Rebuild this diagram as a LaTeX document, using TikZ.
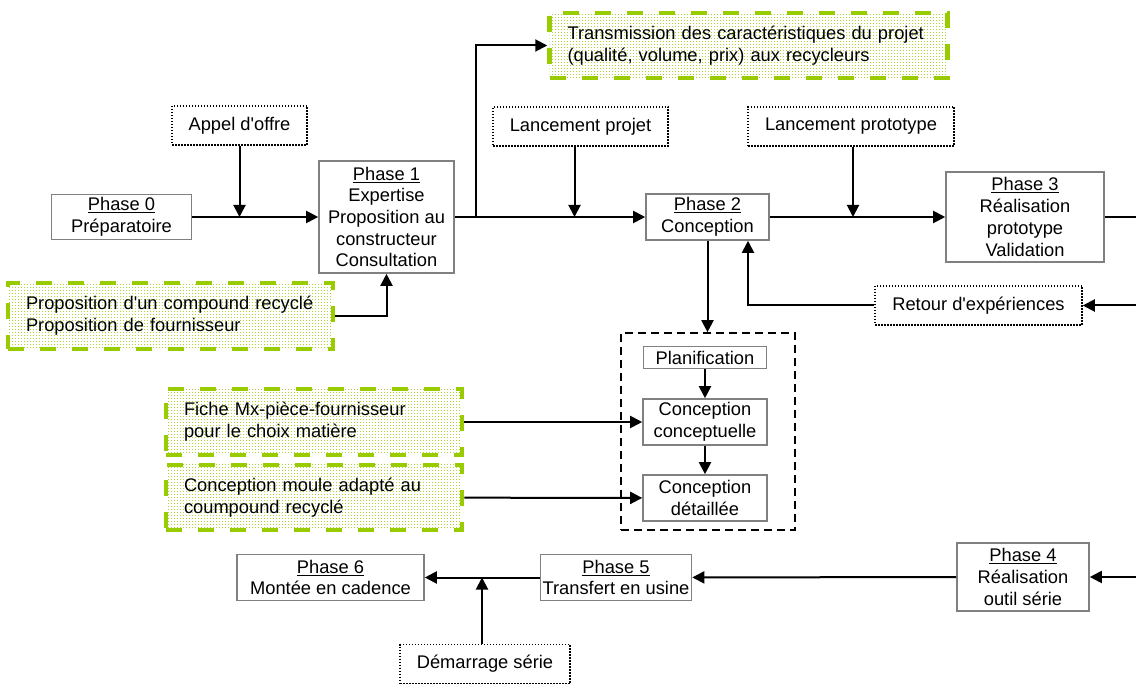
\documentclass[tikz,border=0pt]{standalone}
\usepackage{fontspec}
\setmainfont{Liberation Sans}
\usetikzlibrary{arrows.meta,patterns.meta}
\definecolor{recyGreen}{HTML}{99CC00}
\tikzdeclarepattern{
  name=recydots,
  bounding box={(0,0) and (3pt,3pt)},
  tile size={(3pt,3pt)},
  code={\fill (0,0) rectangle (1.2pt,1.2pt);}
}
\newcommand{\apos}{\textquotesingle}
\tikzset{
  phase/.style={draw=gray, line width=1.6pt, align=center, inner sep=1pt},
  event/.style={draw=black, line width=1.5pt, dash pattern=on 1.5pt off 1.5pt,
    align=center, inner sep=1pt},
  recy/.style={draw=recyGreen, line width=4.5pt, dash pattern=on 16pt off 16pt,
    pattern=recydots, pattern color=recyGreen!80, align=left, inner xsep=18pt,
    inner ysep=1pt},
  frame/.style={draw=black, line width=1.6pt, dash pattern=on 8pt off 5pt},
  flow/.style={line width=2pt, -{Triangle[length=12pt,width=12pt]}},
  link/.style={line width=2pt}
}
\begin{document}
\begin{tikzpicture}[x=1pt,y=-1pt,font=\fontsize{18.3}{21.7}\selectfont]
  \useasboundingbox (0,0) rectangle (1136,684);
  % phases
  \node[phase,minimum width=140pt,minimum height=45pt] (p0) at (121.5,217)
    {\underline{Phase 0}\\Préparatoire};
  \node[phase,minimum width=135pt,minimum height=112pt] (p1) at (386.5,217)
    {\underline{Phase 1}\\Expertise\\Proposition au\\constructeur\\Consultation};
  \node[phase,minimum width=123pt,minimum height=46pt] (p2) at (707.5,217)
    {\underline{Phase 2}\\Conception};
  \node[phase,minimum width=158pt,minimum height=90pt] (p3) at (1025,217)
    {\underline{Phase 3}\\Réalisation\\prototype\\Validation};
  \node[phase,minimum width=132pt,minimum height=68pt] (p4) at (1023,577)
    {\underline{Phase 4}\\Réalisation\\outil série};
  \node[phase,minimum width=151pt,minimum height=46pt] (p5) at (616,577.5)
    {\underline{Phase 5}\\Transfert en usine};
  \node[phase,minimum width=187pt,minimum height=46pt] (p6) at (330.5,577.5)
    {\underline{Phase 6}\\Montée en cadence};
  % events
  \node[event,minimum width=135pt,minimum height=39pt] (appel) at (239.5,125.5)
    {Appel d\apos offre};
  \node[event,minimum width=175pt,minimum height=39pt] (lproj) at (580.5,126.5)
    {Lancement projet};
  \node[event,minimum width=206pt,minimum height=39pt] (lproto) at (851,126.5)
    {Lancement prototype};
  \node[event,minimum width=207pt,minimum height=39pt] (retour) at (978.5,305.5)
    {Retour d\apos expériences};
  \node[event,minimum width=170pt,minimum height=39pt] (demar) at (485,664)
    {Démarrage série};
  % conception detail
  \node[frame,minimum width=174pt,minimum height=197pt] (detail) at (708,431.5) {};
  \node[phase,minimum width=123pt,minimum height=22pt] (plan) at (705,357.5)
    {Planification};
  \node[phase,minimum width=124pt,minimum height=46pt] (cc) at (705,422)
    {Conception\\conceptuelle};
  \node[phase,minimum width=124pt,minimum height=46pt] (cd) at (705,498)
    {Conception\\détaillée};
  % recycling inputs
  \node[recy,minimum width=325pt,minimum height=66pt,text width=289pt] (recy1)
    at (170.5,316) {Proposition d\apos un compound recyclé\\Proposition de fournisseur};
  \node[recy,minimum width=398pt,minimum height=65pt,text width=362pt] (trans)
    at (748.5,45.5) {Transmission des caractéristiques du projet\\(qualité, volume, prix) aux recycleurs};
  \node[recy,minimum width=296pt,minimum height=66pt,text width=260pt] (fiche)
    at (314,422) {Fiche Mx-pièce-fournisseur\\pour le choix matière};
  \node[recy,minimum width=296pt,minimum height=65pt,text width=260pt] (moule)
    at (314,497.5) {Conception moule adapté au\\coumpound recyclé};
  % page edge
  \coordinate (out3) at (1136,217);
  \coordinate (inRetour) at (1136,305.5);
  \coordinate (in4) at (1136,577);
  % connectors
  \draw[flow] (p0) -- (p1);
  \draw[flow] (appel) -- (appel |- p0);
  \draw[flow] (recy1.east) -| (p1.south);
  \draw[flow] (p1) -- (p2);
  \draw[flow] ([xshift=21pt]p1.east) |- (trans.west);
  \draw[flow] ([xshift=-6pt]lproj.south) -- ([xshift=-6pt]lproj.south |- p2.west);
  \draw[flow] (p2) -- (p3);
  \draw[flow] ([xshift=2pt]lproto.south) -- ([xshift=2pt]lproto.south |- p3.west);
  \draw[link] (p3) -- (out3);
  \draw[flow] (inRetour) -- (retour);
  \draw[flow] (retour.west) -| ([xshift=40.5pt]p2.south);
  \draw[flow] (p2.south) -- (p2.south |- detail.north);
  \draw[flow] (plan) -- (cc);
  \draw[flow] (cc) -- (cd);
  \draw[flow] (fiche) -- (cc);
  \draw[flow] (moule) -- (cd);
  \draw[flow] (in4) -- (p4);
  \draw[flow] (p4) -- (p5);
  \draw[flow] (p5) -- (p6);
  \draw[flow] ([xshift=-3pt]demar.north) -- ([xshift=-3pt]demar.north |- p6.east);
\end{tikzpicture}
\end{document}
